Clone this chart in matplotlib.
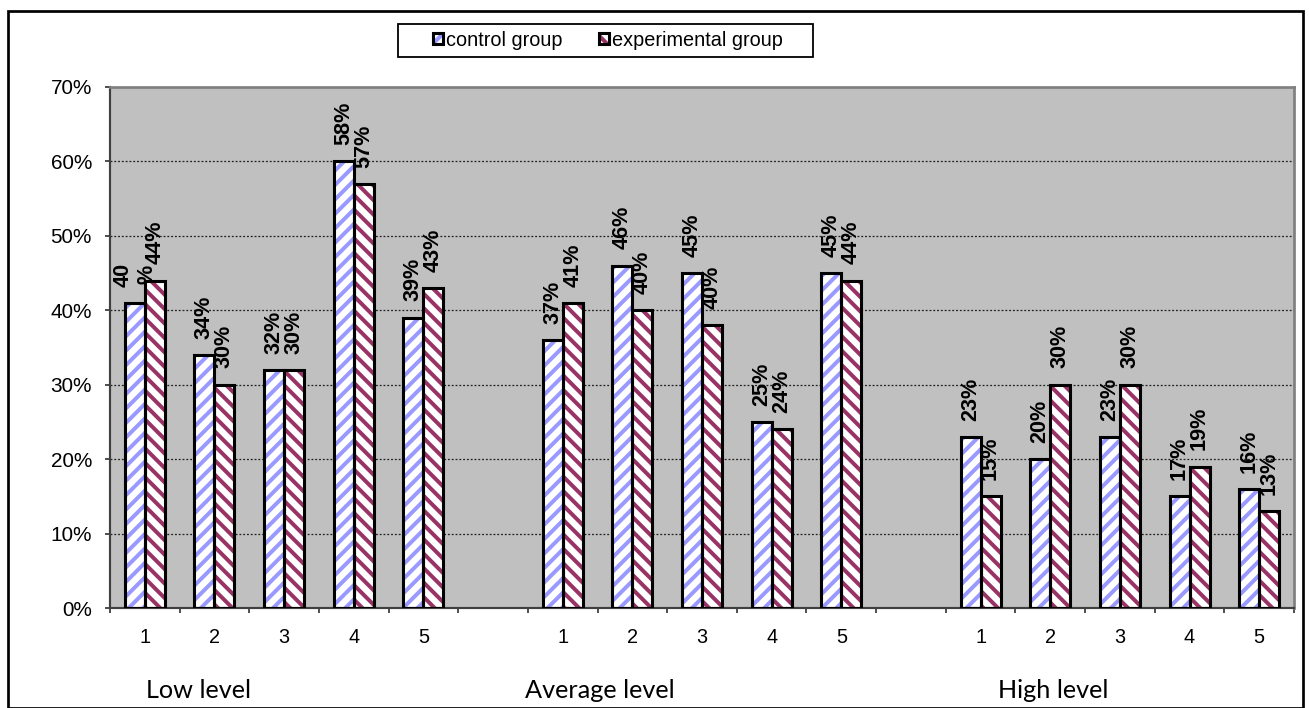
import matplotlib
matplotlib.use("Agg")
import numpy as np
from matplotlib import pyplot as plt
from matplotlib.patches import Rectangle

groups = ["Low level", "Average level", "High level"]
items = ["1", "2", "3", "4", "5"]

control = [41, 34, 32, 60, 39, 36, 46, 45, 25, 45, 23, 20, 23, 15, 16]
experimental = [44, 30, 32, 57, 43, 41, 40, 38, 24, 44, 15, 30, 30, 19, 13]
control_labels = ["40\n%", "34%", "32%", "58%", "39%",
                  "37%", "46%", "45%", "25%", "45%",
                  "23%", "20%", "23%", "17%", "16%"]
experimental_labels = ["44%", "30%", "30%", "57%", "43%",
                       "41%", "40%", "40%", "24%", "44%",
                       "15%", "30%", "30%", "19%", "13%"]

plt.rcParams['font.family'] = ['Liberation Sans', 'DejaVu Sans']
plt.rcParams['hatch.linewidth'] = 2.2

DPI = 130
fig = plt.figure(figsize=(1309 / DPI, 708 / DPI), dpi=DPI)
ax = fig.add_axes([110 / 1309, 100 / 708, 1184 / 1309, 521 / 708])
ax.set_facecolor('#c0c0c0')

# 5 items per group, one empty slot between groups
positions = []
for g in range(len(groups)):
    for i in range(len(items)):
        positions.append(g * (len(items) + 1) + i)
positions = np.array(positions)
n_slots = len(groups) * (len(items) + 1) - 1

w = 0.287
ctrl_color = '#9999ff'
exp_color = '#993366'

ctrl_h = ax.bar(positions - w / 2, control, w, color='white', edgecolor=ctrl_color,
                hatch='///', linewidth=0, zorder=2)
ctrl_e = ax.bar(positions - w / 2, control, w, fill=False, edgecolor='black',
                linewidth=1.7, zorder=3)
exp_h = ax.bar(positions + w / 2, experimental, w, color='white', edgecolor=exp_color,
               hatch='\\\\\\', linewidth=0, zorder=2)
exp_e = ax.bar(positions + w / 2, experimental, w, fill=False, edgecolor='black',
               linewidth=1.7, zorder=3)

for x, v, lab in zip(positions - w / 2, control, control_labels):
    ax.annotate(lab, (x, v), xytext=(0, 9), textcoords='offset points', rotation=90,
                ha='center', va='bottom', fontsize=12, fontweight='bold', zorder=4)
for x, v, lab in zip(positions + w / 2, experimental, experimental_labels):
    ax.annotate(lab, (x, v), xytext=(0, 9), textcoords='offset points', rotation=90,
                ha='center', va='bottom', fontsize=12, fontweight='bold', zorder=4)

ax.set_xlim(-0.5, n_slots - 0.5)
ax.set_ylim(0, 70)
ax.set_yticks(range(0, 71, 10))
ax.set_yticklabels([f"{t}%" for t in range(0, 71, 10)])
ax.set_xticks(positions)
ax.set_xticklabels(items * len(groups))
ax.set_xticks(np.arange(-0.5, n_slots, 1.0), minor=True)
ax.tick_params(axis='x', which='major', length=0, pad=11, labelsize=11)
ax.tick_params(axis='x', which='minor', length=3, width=1, color='#404040', direction='out')
ax.tick_params(axis='y', length=3, width=1, color='#404040', pad=7, labelsize=11.5)
ax.yaxis.grid(True, linestyle=(0, (1.5, 1.5)), color='#202020', linewidth=0.7, zorder=1)
ax.set_axisbelow(True)
for side in ['top', 'right']:
    ax.spines[side].set_color('#808080')
    ax.spines[side].set_linewidth(1.5)
for side in ['left', 'bottom']:
    ax.spines[side].set_color('#404040')
    ax.spines[side].set_linewidth(1.2)

group_x = [198 / 1309, 600 / 1309, 1053 / 1309]
for gx, name in zip(group_x, groups):
    fig.text(gx, 18 / 708, name, ha='center', va='center', fontsize=14,
             family=['Lato', 'DejaVu Sans'])

# legend without its own frame, the box is drawn separately
leg = fig.legend([(ctrl_h[0], ctrl_e[0]), (exp_h[0], exp_e[0])],
                 ['control group', 'experimental group'],
                 loc='center', bbox_to_anchor=(608 / 1309, 1 - 40 / 708), ncol=2,
                 frameon=False, prop={'size': 11},
                 handlelength=0.5, handleheight=0.5, handletextpad=0.15,
                 columnspacing=1.85, borderpad=0, borderaxespad=0)
fig.patches.append(Rectangle((398 / 1309, 1 - 57 / 708), 415 / 1309, 33 / 708,
                             transform=fig.transFigure, fill=False,
                             edgecolor='black', linewidth=1.0))

fig.patches.append(Rectangle((8 / 1309, 0.5 / 708), 1295 / 1309, 697 / 708,
                             transform=fig.transFigure, fill=False,
                             edgecolor='black', linewidth=1.5))

fig.savefig("out.png", dpi=DPI)
